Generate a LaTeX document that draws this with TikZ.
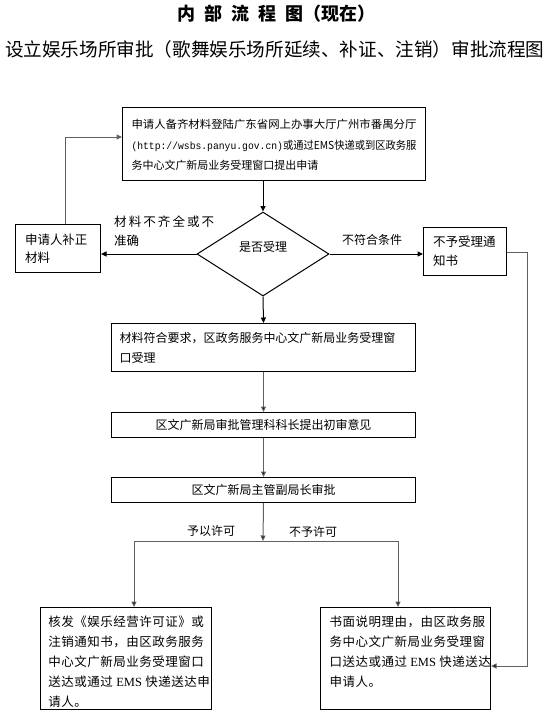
\documentclass[tikz,border=0pt]{standalone}
\usepackage{fontspec}
\setmainfont{Noto Sans CJK SC}
\newfontfamily\ser{Liberation Serif}
\newfontfamily\mono{Liberation Mono}
\usetikzlibrary{arrows.meta,shapes.geometric}
\colorlet{lg}{black!62}
\newcommand{\shiftedtext}[3]{\raisebox{#1}[0pt][0pt]{\parbox{#2}{#3}}}
\begin{document}
\begin{tikzpicture}[x=1pt,y=-1pt,
  box/.style={draw=black, line width=1pt, inner sep=0pt, anchor=north west, align=left},
  arr/.style={-{Triangle[length=5.5pt,width=5pt]}, line width=1pt},
  garr/.style={arr, draw=lg, -{Triangle[length=5.5pt,width=5pt,fill=black]}},
  gline/.style={draw=lg, line width=1pt},
  lab/.style={inner sep=0pt, align=left, font=\fontsize{12}{19}\selectfont}]
\useasboundingbox (0,0) rectangle (549,716);
% titles
\node[inner sep=0pt, font=\fontsize{18}{20}\bfseries] (t1) at (276,14)
  {内\hspace{0.5em}部\hspace{0.5em}流\hspace{0.5em}程\hspace{0.5em}图（现在）};
\node[inner sep=0pt, anchor=west, font=\fontsize{18.6}{20}\selectfont] (t2) at (5,49)
  {设立娱乐场所审批（歌舞娱乐场所延续、补证、注销）审批流程图};
% boxes
\node[box, minimum width=303pt, minimum height=73pt,
      font=\fontsize{11}{20.5}\selectfont] (b1) at (122,107)
  {\shiftedtext{-4pt}{285pt}{\resizebox{285pt}{\height}{申请人备齐材料登陆广东省网上办事大厅广州市番禺分厅}\\
   \resizebox{285pt}{\height}{{\mono\fontsize{10.4}{12}\selectfont (http://wsbs.panyu.gov.cn)}或通过EMS快递或到区政务服}\\
   务中心文广新局业务受理窗口提出申请}};
\node[box, minimum width=85pt, minimum height=48pt, text width=66pt,
      font=\fontsize{12.5}{18}\selectfont] (bz) at (15,224)
  {申请人补正\\材料};
\node[box, minimum width=83pt, minimum height=48pt, text width=64pt,
      font=\fontsize{12.5}{19}\selectfont] (bn) at (423,227)
  {不予受理通\\知书};
\node[draw=black, line width=1pt, diamond, inner sep=0pt, minimum width=132pt, minimum height=84pt,
      label={[lab, yshift=7pt]center:是否受理}] (d) at (263,254) {};
\node[box, minimum width=304pt, minimum height=48pt, text width=288pt,
      font=\fontsize{12}{20}\selectfont] (b3) at (111,323)
  {材料符合要求，区政务服务中心文广新局业务受理窗\\口受理};
\node[box, minimum width=304pt, minimum height=25pt, align=center,
      font=\fontsize{12}{14}\selectfont] (b4) at (111,412)
  {区文广新局审批管理科科长提出初审意见};
\node[box, minimum width=304pt, minimum height=25pt, align=center,
      font=\fontsize{12}{14}\selectfont] (b5) at (111,477)
  {区文广新局主管副局长审批};
\node[box, minimum width=171pt, minimum height=102pt,
      font=\fontsize{12.5}{20}\selectfont\addfontfeature{LetterSpace=4}] (b7) at (40,607)
  {\shiftedtext{-6pt}{155pt}{核发《娱乐经营许可证》或\\注销通知书，由区政务服务\\中心文广新局业务受理窗口\\\mbox{送达或通过~{\ser EMS}~快递送达申}\\请人。}};
\node[box, minimum width=170pt, minimum height=102pt,
      font=\fontsize{12.5}{20}\selectfont\addfontfeature{LetterSpace=4}] (b6) at (320,607)
  {\shiftedtext{4pt}{152pt}{书面说明理由，由区政务服\\务中心文广新局业务受理窗\\\mbox{口送达或通过~{\ser EMS}~快递送达}\\申请人。}};
% labels
\node[lab, anchor=north west, font=\fontsize{12.5}{19}\selectfont] (l1) at (114,216)
  {材\,料\,不\,齐\,全\,或\,不\\准确};
\node[lab, anchor=west] (l2) at (342,240) {不符合条件};
\node[lab, anchor=west] (l3) at (187,531) {予以许可};
\node[lab, anchor=west] (l4) at (289,532) {不予许可};
% coordinates
\coordinate (lp) at (65,137);
\coordinate (rp) at (527,252);
\coordinate (rq) at (527,666);
\coordinate (j) at (263,541);
\coordinate (lj) at (134,541);
\coordinate (rj) at (398,541);
% connectors
\draw[arr] (d.north |- b1.south) -- (d.north);
\draw[arr] (d.west) -- (bz.east |- d.west);
\draw[arr] (d.east) -- (bn.west |- d.east);
\draw[arr] (d.south) -- (b3.north);
\draw[gline, arr, draw=lg] (lp |- bz.north) -- (lp) -- (b1.west |- lp);
\draw[garr] (b3.south) -- (b4.north);
\draw[garr] (b4.south) -- (b5.north);
\draw[garr] (b5.south) -- (j);
\draw[gline] (lj) -- (rj);
\draw[garr] (lj) -- (lj |- b7.north);
\draw[garr] (rj) -- (rj |- b6.north);
\draw[garr] (bn.east |- rp) -- (rp) -- (rq) -- (b6.east |- rq);
\end{tikzpicture}
\end{document}
